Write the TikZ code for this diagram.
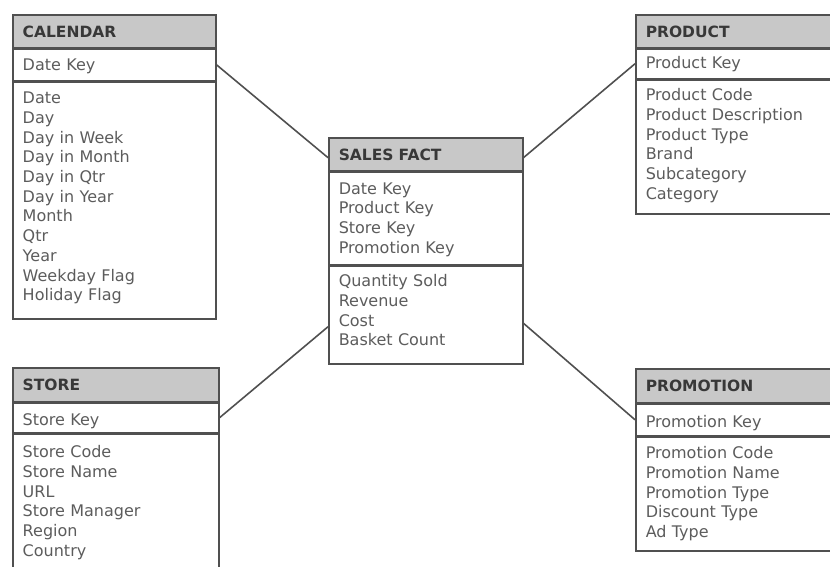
\documentclass[tikz,border=0pt]{standalone}
\usepackage{fontspec}
\setmainfont{DejaVu Sans}
\usepackage{tikz}
\usetikzlibrary{positioning}

\definecolor{boxline}{HTML}{505050}
\definecolor{headfill}{HTML}{C8C8C8}
\definecolor{headtext}{HTML}{383838}
\definecolor{fieldtext}{HTML}{5C5C5C}

\newcommand{\colfont}{\fontsize{16}{19.7}\selectfont}
\newcommand{\tblfont}{\fontsize{15.5}{19.7}\selectfont\bfseries}

\tikzset{
  tbl/.style = {draw = boxline, line width = 1.5pt, inner xsep = 10pt, inner ysep = 0pt,
                align = left, font = \colfont, text = fieldtext},
  tblhead/.style = {tbl, fill = headfill, font = \tblfont, text = headtext,
                    text height = 23pt, text depth = 10pt},
  link/.style = {draw = boxline, line width = 1.6pt}
}

\begin{document}
\begin{tikzpicture}[x = 1pt, y = -1pt]
  \useasboundingbox (0,0) rectangle (830,566);
  \clip (0,0) rectangle (830,566);

  % calendar
  \node [tblhead, anchor = north west, text width = 183pt] (cal-head) at (12,14) {CALENDAR};
  \node [tbl, below = 0pt of cal-head, text width = 183pt, text height = 21pt, text depth = 10pt] (cal-key) {Date Key};
  \node [tbl, below = 0pt of cal-key, text width = 183pt, text height = 22pt, text depth = 215pt] (cal-attr)
    {Date\\Day\\Day in Week\\Day in Month\\Day in Qtr\\Day in Year\\Month\\Qtr\\Year\\Weekday Flag\\Holiday Flag};

  % sales fact
  \node [tblhead, anchor = north west, text width = 174pt] (fact-head) at (328,137) {SALES FACT};
  \node [tbl, below = 0pt of fact-head, text width = 174pt, text height = 22pt, text depth = 70pt] (fact-key)
    {Date Key\\Product Key\\Store Key\\Promotion Key};
  \node [tbl, below = 0pt of fact-key, text width = 174pt, text height = 21pt, text depth = 77pt] (fact-meas)
    {Quantity Sold\\Revenue\\Cost\\Basket Count};

  % product
  \node [tblhead, anchor = north west, text width = 183pt] (prod-head) at (635,14) {PRODUCT};
  \node [tbl, below = 0pt of prod-head, text width = 183pt, text height = 19pt, text depth = 10pt] (prod-key) {Product Key};
  \node [tbl, below = 0pt of prod-key, text width = 183pt, text height = 21pt, text depth = 113pt] (prod-attr)
    {Product Code\\Product Description\\Product Type\\Brand\\Subcategory\\Category};

  % store
  \node [tblhead, anchor = north west, text width = 186pt, text depth = 11pt] (store-head) at (12,367) {STORE};
  \node [tbl, below = 0pt of store-head, text width = 186pt, text height = 22pt, text depth = 7pt] (store-key) {Store Key};
  \node [tbl, below = 0pt of store-key, text width = 186pt, text height = 24pt, text depth = 124pt] (store-attr)
    {Store Code\\Store Name\\URL\\Store Manager\\Region\\Country};

  % promotion
  \node [tblhead, anchor = north west, text width = 183pt, text depth = 11pt] (promo-head) at (635,368) {PROMOTION};
  \node [tbl, below = 0pt of promo-head, text width = 183pt, text height = 23pt, text depth = 8pt] (promo-key) {Promotion Key};
  \node [tbl, below = 0pt of promo-key, text width = 183pt, text height = 22pt, text depth = 92pt] (promo-attr)
    {Promotion Code\\Promotion Name\\Promotion Type\\Discount Type\\Ad Type};

  % links
  \draw [link] (cal-key.east) -- (fact-head.182.7);
  \draw [link] (fact-head.-2.7) -- (prod-key.west);
  \draw [link] (store-key.east) -- (fact-meas.187);
  \draw [link] (fact-meas.-5) -- (promo-key.west);
\end{tikzpicture}
\end{document}
